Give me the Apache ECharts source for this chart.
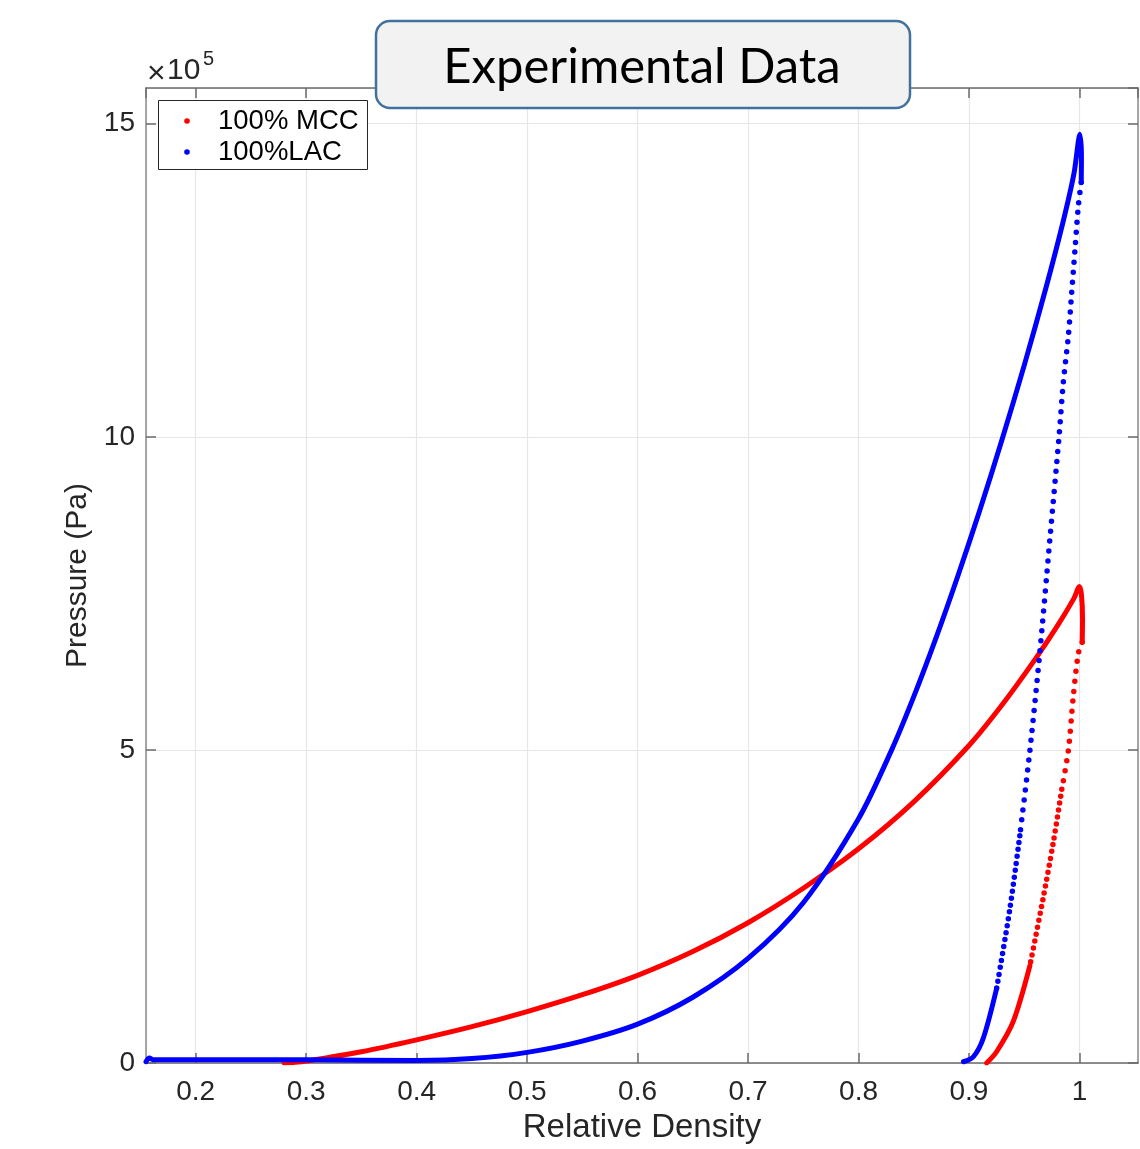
<!DOCTYPE html>
<html>
<head>
<meta charset="utf-8">
<script src="https://cdn.jsdelivr.net/npm/echarts@6/dist/echarts.min.js"></script>
<style>
html,body{margin:0;padding:0;background:#fff;}
#chart{width:1140px;height:1149px;}
</style>
</head>
<body>
<div id="chart"></div>
<script>
// ---- Data (x = relative density, y = pressure in Pa) ----
const seriesNames = ['100% MCC', '100%LAC'];
const xTickLabels = ['0.2','0.3','0.4','0.5','0.6','0.7','0.8','0.9','1'];
const yTickLabels = ['0','5','10','15'];

// 100% MCC loading (dense samples, rendered as continuous trace) incl. peak hook
const mccLoading = [
  [0.280, 0.000e5], [0.290, 0.010e5], [0.300, 0.030e5], [0.350, 0.180e5],
  [0.400, 0.370e5], [0.450, 0.580e5], [0.500, 0.820e5], [0.550, 1.090e5],
  [0.600, 1.400e5], [0.650, 1.780e5], [0.700, 2.240e5], [0.750, 2.790e5],
  [0.800, 3.420e5], [0.850, 4.170e5], [0.900, 5.070e5], [0.930, 5.720e5],
  [0.960, 6.450e5], [0.980, 6.980e5], [0.995, 7.420e5], [1.000, 7.610e5],
  [1.0018, 7.480e5], [1.0028, 7.100e5], [1.0025, 6.720e5]
];
// 100% MCC unloading (sparse samples)
const mccUnloadUpper = [
  [1.0025, 6.720e5], [0.999, 6.540e5], [0.9944, 5.850e5], [0.990, 5.000e5],
  [0.984, 4.370e5]
];
const mccUnloadMid = [
  [0.984, 4.370e5], [0.9763, 3.520e5], [0.967, 2.620e5], [0.9552, 1.560e5]
];
const mccUnloadLower = [
  [0.9552, 1.560e5], [0.940, 0.660e5], [0.925, 0.180e5], [0.916, 0.000e5]
];

// 100% LAC loading incl. peak hook
const lacLoading = [
  [0.155, 0.020e5], [0.158, 0.080e5], [0.162, 0.050e5], [0.200, 0.050e5],
  [0.300, 0.050e5], [0.400, 0.040e5], [0.450, 0.070e5], [0.500, 0.170e5],
  [0.550, 0.350e5], [0.600, 0.620e5], [0.650, 1.050e5], [0.700, 1.670e5],
  [0.750, 2.560e5], [0.800, 3.900e5], [0.830, 5.000e5], [0.850, 5.850e5],
  [0.870, 6.780e5], [0.890, 7.780e5], [0.910, 8.840e5], [0.930, 9.960e5],
  [0.950, 11.140e5], [0.970, 12.400e5], [0.985, 13.420e5], [0.995, 14.200e5],
  [1.0004, 14.830e5], [1.0018, 14.450e5], [1.0016, 14.060e5]
];
// 100% LAC unloading (sparse samples)
const lacUnloadUpper = [
  [1.0016, 14.060e5], [0.999, 13.690e5], [0.996, 13.000e5], [0.993, 12.310e5],
  [0.990, 11.620e5], [0.9853, 10.850e5], [0.9815, 10.000e5], [0.9733, 8.380e5],
  [0.9643, 6.590e5], [0.9552, 5.000e5], [0.946, 3.630e5]
];
const lacUnloadMid = [
  [0.946, 3.630e5], [0.937, 2.460e5], [0.925, 1.190e5]
];
const lacUnloadLower = [
  [0.925, 1.190e5], [0.913, 0.400e5], [0.904, 0.100e5], [0.895, 0.020e5]
];

const colors = ['#ff0000', '#0000ff'];
const FONT = '"Liberation Sans", Arial, Helvetica, sans-serif';

const chart = echarts.init(document.getElementById('chart'));

function solid(name, data, color) {
  return {
    name: name, type: 'line', data: data, smooth: 0.3,
    showSymbol: false, symbol: 'none', animation: false,
    lineStyle: { color: color, width: 5, cap: 'round', join: 'round' },
    itemStyle: { color: color }, z: 3
  };
}
function dotted(name, data, color, gap) {
  return {
    name: name, type: 'line', data: data, smooth: 0.3,
    showSymbol: false, symbol: 'none', animation: false,
    lineStyle: { color: color, width: 5.5, type: [0, gap], cap: 'round', join: 'round' },
    itemStyle: { color: color }, z: 3
  };
}

const xTickSet = xTickLabels.map(Number);

const option = {
  animation: false,
  backgroundColor: '#ffffff',
  grid: { left: 146, right: 2, top: 88, bottom: 81, containLabel: false },
  xAxis: [{
    type: 'value', min: 0.155, max: 1.053, splitNumber: 9,
    name: 'Relative Density', nameLocation: 'middle', nameGap: 48,
    nameTextStyle: { fontFamily: FONT, fontSize: 33, color: '#262626' },
    axisLine: { show: true, onZero: false, lineStyle: { color: '#6b6b6b', width: 1.5 } },
    axisTick: { show: true, inside: true, length: 10, lineStyle: { color: '#6b6b6b', width: 1.5 } },
    axisLabel: {
      show: true, margin: 15, fontFamily: FONT, fontSize: 28, color: '#262626',
      showMinLabel: false, showMaxLabel: false,
      formatter: function (v) {
        const r = Math.round(v * 10) / 10;
        const i = xTickSet.findIndex(t => Math.abs(t - r) < 1e-9 && Math.abs(v - r) < 1e-6);
        return i >= 0 ? xTickLabels[i] : '';
      }
    },
    splitLine: { show: true, lineStyle: { color: '#e6e6e6', width: 1.2 } }
  }, {
    type: 'value', position: 'top', min: 0.155, max: 1.053, splitNumber: 9,
    axisLine: { show: true, onZero: false, lineStyle: { color: '#6b6b6b', width: 1.5 } },
    axisTick: { show: true, inside: true, length: 10, lineStyle: { color: '#6b6b6b', width: 1.5 } },
    axisLabel: { show: false }, splitLine: { show: false }
  }],
  yAxis: [{
    type: 'value', min: 0, max: 15.57e5, interval: 5e5,
    name: 'Pressure (Pa)', nameLocation: 'middle', nameGap: 52,
    nameTextStyle: { fontFamily: FONT, fontSize: 30, color: '#262626' },
    axisLine: { show: true, onZero: false, lineStyle: { color: '#8a8a8a', width: 1.5 } },
    axisTick: { show: true, inside: true, length: 10, lineStyle: { color: '#6b6b6b', width: 1.5 } },
    axisLabel: {
      show: true, margin: 11, fontFamily: FONT, fontSize: 28, color: '#262626',
      showMaxLabel: false,
      formatter: function (v) {
        const i = Math.round(v / 5e5);
        return (Math.abs(v - i * 5e5) < 1 && yTickLabels[i] !== undefined) ? yTickLabels[i] : '';
      }
    },
    splitLine: { show: true, lineStyle: { color: '#e6e6e6', width: 1.2 } }
  }, {
    type: 'value', position: 'right', min: 0, max: 15.57e5, interval: 5e5,
    axisLine: { show: true, onZero: false, lineStyle: { color: '#8a8a8a', width: 1.5 } },
    axisTick: { show: true, inside: true, length: 10, lineStyle: { color: '#6b6b6b', width: 1.5 } },
    axisLabel: { show: false }, splitLine: { show: false }
  }],
  series: [
    solid(seriesNames[0], mccLoading, colors[0]),
    dotted(seriesNames[0], mccUnloadUpper, colors[0], 10),
    dotted(seriesNames[0], mccUnloadMid, colors[0], 7),
    solid(seriesNames[0], mccUnloadLower, colors[0]),
    solid(seriesNames[1], lacLoading, colors[1]),
    dotted(seriesNames[1], lacUnloadUpper, colors[1], 10),
    dotted(seriesNames[1], lacUnloadMid, colors[1], 7),
    solid(seriesNames[1], lacUnloadLower, colors[1])
  ],
  graphic: [
    // exponent label
    { type: 'text', left: 147, top: 58, z: 10,
      style: { text: '×', font: '32px ' + FONT, fill: '#262626' } },
    { type: 'text', left: 167, top: 56, z: 10,
      style: { text: '10', font: '30px ' + FONT, fill: '#262626' } },
    { type: 'text', left: 203, top: 49, z: 10,
      style: { text: '5', font: '20px ' + FONT, fill: '#262626' } },
    // legend box
    { type: 'rect', shape: { x: 158.5, y: 100.5, width: 209, height: 69 }, z: 10,
      style: { fill: '#ffffff', stroke: '#262626', lineWidth: 1 } },
    { type: 'circle', shape: { cx: 187, cy: 121, r: 2.8 }, z: 11, style: { fill: colors[0] } },
    { type: 'circle', shape: { cx: 187, cy: 152, r: 2.8 }, z: 11, style: { fill: colors[1] } },
    { type: 'text', x: 218, y: 121, z: 11,
      style: { text: seriesNames[0], font: '27.5px ' + FONT, fill: '#000000', verticalAlign: 'middle' } },
    { type: 'text', x: 218, y: 152, z: 11,
      style: { text: seriesNames[1], font: '27.5px ' + FONT, fill: '#000000', verticalAlign: 'middle' } },
    // title box
    { type: 'rect', shape: { x: 376, y: 21, width: 534, height: 87, r: 14 }, z: 20,
      style: { fill: '#f2f2f2', stroke: '#41719c', lineWidth: 2.5 } },
    { type: 'text', x: 642, y: 67, z: 21,
      style: { text: 'Experimental Data', font: '49px Lato, "Open Sans", sans-serif', fill: '#000000',
               align: 'center', verticalAlign: 'middle' } }
  ]
};
chart.setOption(option);
</script>
</body>
</html>
